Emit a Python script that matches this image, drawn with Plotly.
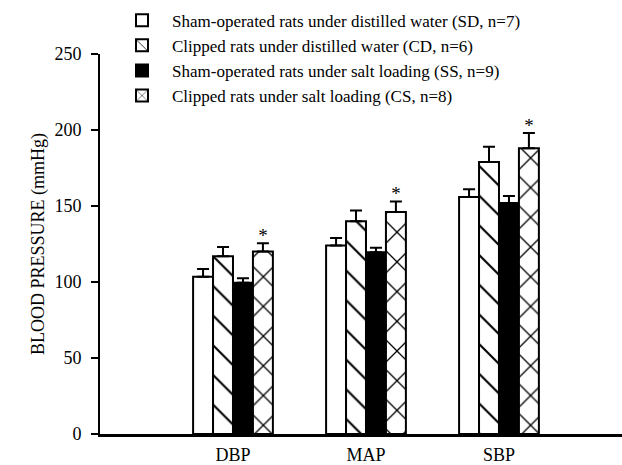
import plotly.graph_objects as go

categories = ["DBP", "MAP", "SBP"]
x_pos = [1, 2, 3]
groups = [
    "Sham-operated rats under distilled water (SD, n=7)",
    "Clipped rats under distilled water (CD, n=6)",
    "Sham-operated rats under salt loading (SS, n=9)",
    "Clipped rats under salt loading (CS, n=8)",
]
sd_vals = [103.5, 124, 156]
cd_vals = [117, 140, 179]
ss_vals = [99.5, 119.5, 152]
cs_vals = [120, 146, 188]
sd_err = [5, 5, 5]
cd_err = [6, 7, 10]
ss_err = [3, 3, 4.5]
cs_err = [5.5, 7, 10]
cs_sig = ["*", "*", "*"]

FONT = "Liberation Serif"
vals = [sd_vals, cd_vals, ss_vals, cs_vals]
errs = [sd_err, cd_err, ss_err, cs_err]
fills = ["white", "white", "black", "white"]
patterns = [None, ("\\", 21, 0.1), None, ("x", 21, 0.12)]

fig = go.Figure()
for name, v, e, fc, pat in zip(groups, vals, errs, fills, patterns):
    marker = dict(color=fc, line=dict(color="black", width=2))
    if pat:
        marker["pattern"] = dict(shape=pat[0], size=pat[1], solidity=pat[2],
                                 fgcolor="black", bgcolor="white", fgopacity=1)
    fig.add_trace(go.Bar(
        x=x_pos, y=v, name=name, marker=marker,
        error_y=dict(type="data", symmetric=False, array=e,
                     arrayminus=[0] * len(e), color="black",
                     thickness=2, width=6),
    ))

bar_w = 0.15
cs_x = [x + 1.5 * bar_w for x in x_pos]
cs_top = [v + e + 4 for v, e in zip(cs_vals, cs_err)]
fig.add_trace(go.Scatter(
    x=cs_x, y=cs_top, mode="text", text=cs_sig, textposition="middle center",
    textfont=dict(family=FONT, size=19, color="black"),
    showlegend=False, hoverinfo="skip",
))

fig.update_layout(
    width=622, height=465,
    margin=dict(l=100, r=0, t=54, b=31),
    paper_bgcolor="white", plot_bgcolor="white",
    barmode="group", bargap=0.4, bargroupgap=0,
    font=dict(family=FONT, size=18, color="black"),
    legend=dict(x=0.023, y=1.135, xanchor="left", yanchor="top",
                bgcolor="rgba(0,0,0,0)", font=dict(family=FONT, size=17),
                tracegroupgap=0, itemwidth=50, borderwidth=0),
    xaxis=dict(range=[0, 3.925], tickvals=x_pos, ticktext=categories,
               tickfont=dict(size=18), ticklabelstandoff=3,
               showline=True, linecolor="black", linewidth=2.5,
               showgrid=False, zeroline=False, ticks=""),
    yaxis=dict(range=[0, 250], tickvals=[0, 50, 100, 150, 200, 250],
               tickfont=dict(size=18), ticklabelstandoff=6,
               showline=True, linecolor="black", linewidth=2,
               ticks="outside", ticklen=7, tickwidth=2, tickcolor="black",
               showgrid=False, zeroline=False,
               title=dict(text="BLOOD PRESSURE (mmHg)", standoff=5,
                          font=dict(family=FONT, size=18))),
)

fig.write_html("out.html", config={"displayModeBar": False},
               post_script="document.body.style.margin='0';document.body.style.overflow='hidden';")
